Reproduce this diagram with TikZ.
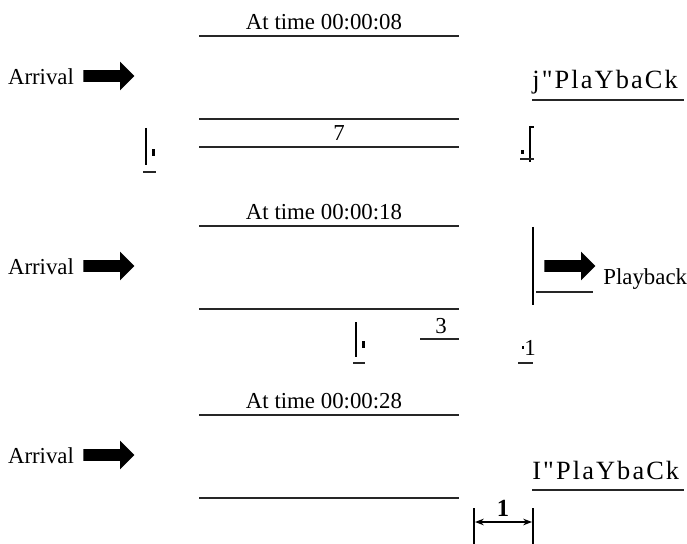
\documentclass[tikz,border=0pt]{standalone}
\usepackage{fontspec}
\setmainfont{Liberation Serif}
\newfontfamily\rawserif{Liberation Serif}[Ligatures=TeXOff,LetterSpace=8]
\usetikzlibrary{shapes.arrows,arrows.meta,positioning}

\begin{document}
\begin{tikzpicture}[x=0.02cm,y=-0.02cm,
  font=\fontsize{13}{15}\selectfont,
  blockarr/.style={single arrow,fill=black,draw=none,minimum height=1.02cm,
             inner sep=0.11cm,single arrow head extend=0.17cm,
             single arrow head indent=0pt},
  rule/.style={draw=black!85,line width=0.8pt},
  tick/.style={draw=black,line width=1.4pt},
  garble/.style={font=\rawserif\fontsize{15}{17}\selectfont,
             anchor=base west,inner sep=0pt}]
\useasboundingbox (0,0) rectangle (687,544);

% the three snapshots
\foreach \t/\o in {08/0,18/190,28/379}{
  \node (title\t) at (324,22+\o) {At time 00:00:\t};
  \draw[rule] (199,36+\o) -- (459,36+\o);
  \draw[rule] (199,119+\o) -- (459,119+\o);
  \node (arrival\t) at (41,77+\o) {Arrival};
  \node[blockarr] (arrow\t) at (106,76+\o) {};
}

% first snapshot
\draw[rule] (199,147) -- (459,147);
\node (seven) at (339,133) {7};
\node[garble] (pb1) at (532,89) {j"PlaYbaCk};
\draw[rule,line width=1pt] (532,100) -- (684,100);
\draw[tick] (146,128) -- (146,165);
\fill (152,149) rectangle (155,156);
\draw[rule] (143,172) -- (156,172);
\draw[tick] (530,126) -- (530,162);
\draw[tick] (529,127) -- (534,127);
\fill (521,150) rectangle (524,154);
\draw[rule] (520,159) -- (534,159);

% second snapshot
\draw[tick] (533,227) -- (533,305);
\node[blockarr] (play) at (567,266) {};
\node[anchor=west,inner sep=0pt] (playback) at (603,279) {Playback};
\draw[rule] (536,292) -- (593,292);
\draw[tick] (356,322) -- (356,357);
\fill (362,341) rectangle (365,348);
\draw[rule] (353,363) -- (365,363);
\node (three) at (441,326) {3};
\draw[rule] (420,339) -- (459,339);
\node[inner sep=0pt] (one2) at (530,348) {1};
\fill (522,346) rectangle (524,349);
\draw[rule] (518,363) -- (533,363);

% third snapshot
\node[garble] (pb3) at (532,479) {I"PlaYbaCk};
\draw[rule,line width=1pt] (532,490) -- (684,490);
\draw[tick] (474,508) -- (474,544);
\draw[tick] (533,508) -- (533,544);
\coordinate (dimL) at (475,522);
\coordinate (dimR) at (532,522);
\draw[{Stealth[length=5pt]}-{Stealth[length=5pt]},line width=0.9pt] (dimL) -- (dimR);
\node[font=\fontsize{14}{16}\selectfont\bfseries] (unit) at (503,508) {1};
\end{tikzpicture}
\end{document}
